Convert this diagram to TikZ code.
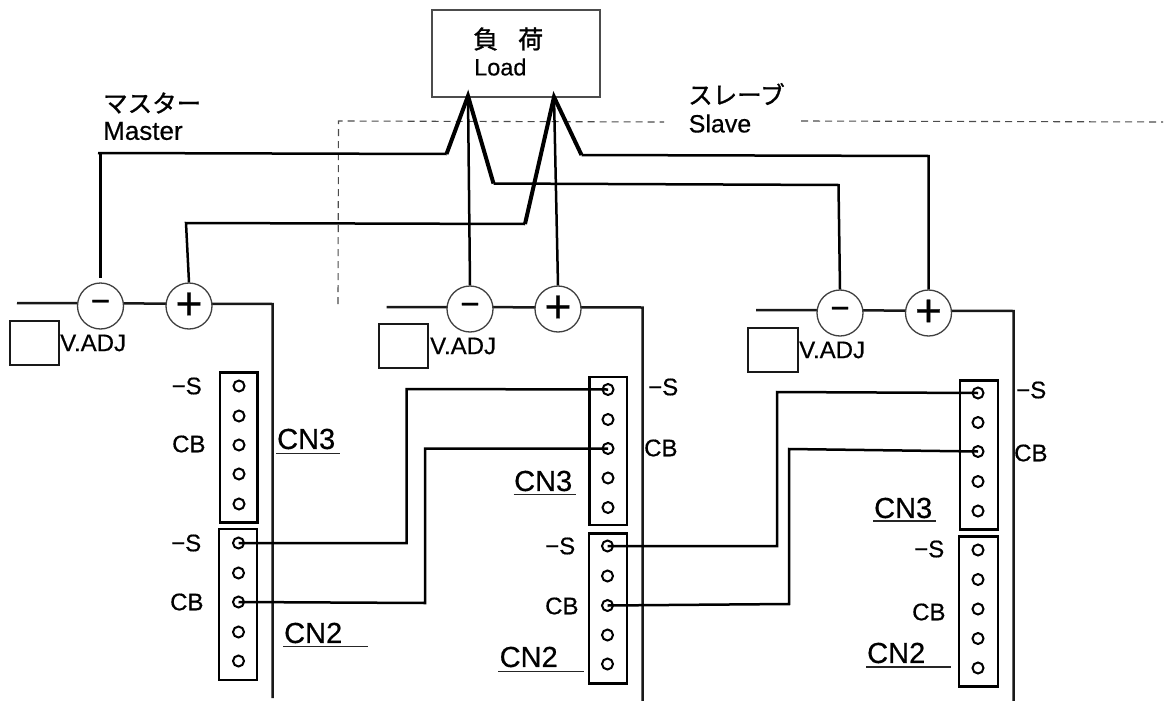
\documentclass[tikz,border=0pt]{standalone}
\usepackage{fontspec}
\setmainfont[FakeBold=0.5]{Liberation Sans}
\newfontfamily\jpfont[FakeBold=1.2]{Noto Sans CJK JP}
\usetikzlibrary{calc}
\newcommand{\fs}[1]{\fontsize{#1}{#1}\selectfont}
\tikzset{
  wire/.style={line width=2.5pt,black,line join=miter},
  heavy/.style={line width=4pt,black,line join=miter},
  bus/.style={line width=2.5pt,black!90},
  terminal/.style={circle,draw=black!75,line width=1.3pt,minimum size=46pt,inner sep=0pt,fill=white},
  pin/.style={circle,draw=black,line width=2pt,minimum size=11pt,inner sep=0pt},
  cnbox/.style={draw=black,line width=2.8pt},
  adjbox/.style={draw=black!90,line width=2.2pt},
  txt/.style={inner sep=0pt,anchor=west,font=\fs{24},text=black},
  cntxt/.style={inner sep=0pt,anchor=west,font=\fs{29},text=black},
  uline/.style={line width=1.1pt,black!85},
  border/.style={line width=1.1pt,dash pattern=on 7pt off 5pt,black!70},
}
\begin{document}
\begin{tikzpicture}[x=1pt,y=-1pt]
\useasboundingbox (0,0) rectangle (1167,701);
% load
\node[draw=black!70,line width=1.2pt,minimum width=168pt,minimum height=87pt,inner sep=0pt] (load) at (516,53.5) {};
\node[inner sep=0pt,anchor=west,font=\jpfont\fs{25}] (loadjp) at (473,39) {負\hspace{20pt}荷};
\node[txt,font=\fs{23.5}] (loaden) at (474,67) {Load};
\coordinate (lneg) at (468,96);
\coordinate (lpos) at (554,97);
% group labels
\node[inner sep=0pt,anchor=west,font=\jpfont\fs{24.5}] (mjp) at (103,103) {マスター};
\node[txt,font=\fs{26}] (men) at (103,131) {Master};
\node[inner sep=0pt,anchor=west,font=\jpfont\fs{24.5}] (sjp) at (688,94) {スレーブ};
\node[txt,font=\fs{25}] (sen) at (688.5,123.5) {Slave};
% dashed boundary
\coordinate (d0) at (338,304); \coordinate (d1) at (338.5,121);
\coordinate (d2) at (664,122); \coordinate (d3) at (801,121); \coordinate (d4) at (1163,122);
\draw[border] (d0) -- (d1) -- (d2);
\draw[border] (d3) -- (d4);
% buses
\coordinate (ma) at (17,303); \coordinate (mb) at (272.5,304); \coordinate (mc) at (272.5,698);
\coordinate (aa) at (386.5,307); \coordinate (ab) at (642.5,307.5); \coordinate (ac) at (642.5,701);
\coordinate (ba) at (756,310); \coordinate (bb) at (1013.5,311); \coordinate (bc) at (1013.5,701);
\draw[bus] (ma) -- (mb) -- (mc);
\draw[bus] (aa) -- (ab) -- (ac);
\draw[bus] (ba) -- (bb) -- (bc);
% terminals
\node[terminal,font=\fs{33}] (mn) at (100.5,306) {−};
\node[terminal,font=\fs{46}] (mp) at (189,306) {+};
\node[terminal,font=\fs{33}] (an) at (470,309) {−};
\node[terminal,font=\fs{46}] (ap) at (558,309) {+};
\node[terminal,font=\fs{33}] (bn) at (840,313) {−};
\node[terminal,font=\fs{46}] (bp) at (928.5,313) {+};
% V.ADJ
\node[adjbox,minimum width=49.5pt,minimum height=44pt,inner sep=0pt] (madj) at (34.5,343) {};
\node[adjbox,minimum width=49pt,minimum height=44pt,inner sep=0pt] (aadj) at (403.5,346) {};
\node[adjbox,minimum width=49.5pt,minimum height=44pt,inner sep=0pt] (badj) at (773,350) {};
\node[txt] (madjt) at (60,343) {V.ADJ};
\node[txt] (aadjt) at (430,346) {V.ADJ};
\node[txt] (badjt) at (799,350) {V.ADJ};
% connector housings
\node[cnbox,minimum width=37.5pt,minimum height=150pt,inner sep=0pt] (m3) at (238.7,447.7) {};
\node[cnbox,minimum width=38pt,minimum height=151pt,inner sep=0pt] (m2) at (238,604.5) {};
\node[cnbox,minimum width=37.5pt,minimum height=148pt,inner sep=0pt] (a3) at (608.2,451) {};
\node[cnbox,minimum width=38pt,minimum height=150pt,inner sep=0pt] (a2) at (608,608.5) {};
\node[cnbox,minimum width=38pt,minimum height=149pt,inner sep=0pt] (b3) at (979,454.6) {};
\node[cnbox,minimum width=39pt,minimum height=150pt,inner sep=0pt] (b2) at (978.5,611.7) {};
% pins
\foreach \n/\y in {1/386,2/416,3/445,4/474,5/504} \node[pin] (m3p\n) at (239,\y) {};
\foreach \n/\y in {1/543,2/573,3/602,4/632,5/661} \node[pin] (m2p\n) at (238.5,\y) {};
\foreach \n/\y in {1/389.5,2/419.5,3/448.5,4/478,5/507.5} \node[pin] (a3p\n) at (608,\y) {};
\foreach \n/\y in {1/546,2/576,3/605.5,4/635,5/664} \node[pin] (a2p\n) at (607.5,\y) {};
\foreach \n/\y in {1/393,2/422.5,3/451.5,4/481.5,5/511} \node[pin] (b3p\n) at (978,\y) {};
\foreach \n/\y in {1/550,2/579.5,3/609,4/638.5,5/668} \node[pin] (b2p\n) at (978,\y) {};
% signal wires between units
\coordinate (w1a) at (406.5,543); \coordinate (w1b) at (406.5,389);
\coordinate (w2a) at (425,603); \coordinate (w2b) at (425,448.5);
\coordinate (w3a) at (777,546); \coordinate (w3b) at (777,392);
\coordinate (w4a) at (789,604); \coordinate (w4b) at (789,449);
\draw[wire] (m2p1.center) -- (w1a) -- (w1b) -- (a3p1.center);
\draw[wire] (m2p3.center) -- (w2a) -- (w2b) -- (a3p3.center);
\draw[wire] (a2p1.center) -- (w3a) -- (w3b) -- (b3p1.center);
\draw[wire] (a2p3.center) -- (w4a) -- (w4b) -- (b3p3.center);
% power wires
\coordinate (p1) at (98,153); \coordinate (p1a) at (100.5,153); \coordinate (p1b) at (446.5,154);
\coordinate (p2) at (186,223); \coordinate (p2b) at (525,224);
\coordinate (p3) at (493.5,183.5); \coordinate (p3b) at (838.5,185);
\coordinate (p4) at (581.5,155); \coordinate (p4b) at (928.5,156);
\draw[wire] (p1) -- (p1b);
\draw[wire,shorten >=4pt] (p1a) -- (mn.north);
\draw[wire] (mp.north) -- (p2) -- (p2b);
\draw[wire] (p3) -- (p3b) -- (bn.north);
\draw[wire] (p4) -- (p4b) -- (bp.north);
\draw[wire] (lneg) -- (an.north);
\draw[wire] (lpos) -- (ap.north);
\draw[heavy] (p1b) -- (lneg) -- (p3);
\draw[heavy] (p2b) -- (lpos) -- (p4);
% signal labels
\node[txt] (ms3) at (171.5,386) {−S};
\node[txt] (mc3) at (172,444) {CB};
\node[txt] (ms2) at (171,543) {−S};
\node[txt] (mc2) at (170,602) {CB};
\node[txt] (as3) at (648,387) {−S};
\node[txt] (ac3) at (644,448) {CB};
\node[txt] (as2) at (545,546) {−S};
\node[txt] (ac2) at (545,606) {CB};
\node[txt] (bs3) at (1016,390) {−S};
\node[txt] (bc3) at (1014,453) {CB};
\node[txt] (bs2) at (914,549) {−S};
\node[txt] (bc2) at (912,612) {CB};
% connector names
\node[cntxt] (mn3) at (277,439) {CN3};
\node[cntxt] (mn2) at (284,633) {CN2};
\node[cntxt] (an3) at (514,481) {CN3};
\node[cntxt] (an2) at (499.5,657) {CN2};
\node[cntxt] (bn3) at (874,508) {CN3};
\node[cntxt] (bn2) at (867,653) {CN2};
\draw[uline] (276,453.5) -- (340,453.5);
\draw[uline] (283,646.5) -- (368,646.5);
\draw[uline] (513.5,494.5) -- (576,494.5);
\draw[uline] (498,671.5) -- (584,671.5);
\draw[uline] (873,521) -- (936,521);
\draw[uline] (866,667) -- (951,667);
\end{tikzpicture}
\end{document}
